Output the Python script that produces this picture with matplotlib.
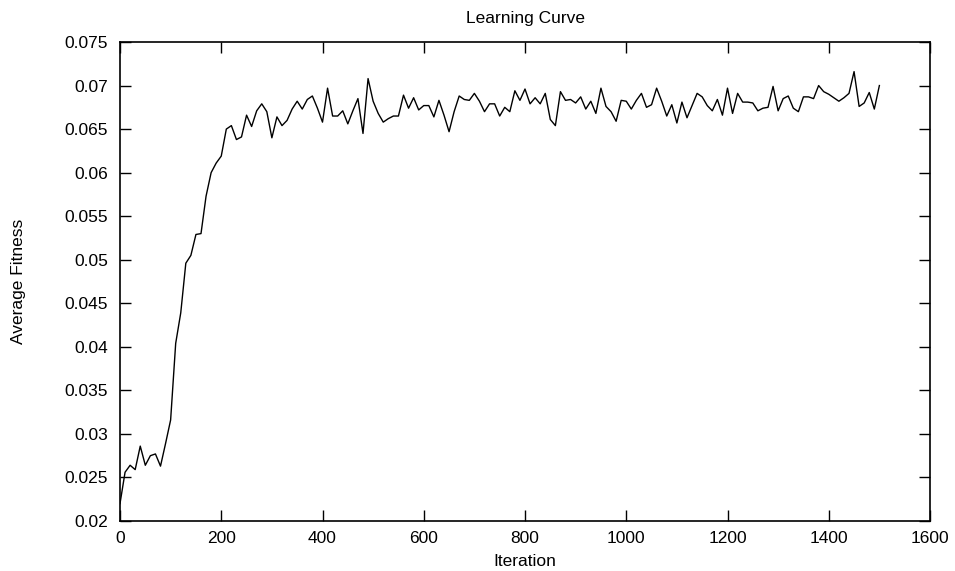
import matplotlib
matplotlib.use("Agg")
import matplotlib.pyplot as plt

plt.rcParams['font.family'] = ['Liberation Sans', 'DejaVu Sans']

# average fitness, sampled every 10 iterations (0..1500)
fitness = [
    0.0220, 0.0256, 0.0264, 0.0259, 0.0286, 0.0264, 0.0275, 0.0277, 0.0263, 0.0289,
    0.0316, 0.0404, 0.0439, 0.0496, 0.0505, 0.0529, 0.0530, 0.0573, 0.0600, 0.0611,
    0.0619, 0.0650, 0.0654, 0.0638, 0.0641, 0.0666, 0.0653, 0.0671, 0.0679, 0.0670,
    0.0640, 0.0664, 0.0654, 0.0660, 0.0673, 0.0682, 0.0673, 0.0684, 0.0688, 0.0674,
    0.0658, 0.0697, 0.0665, 0.0665, 0.0671, 0.0656, 0.0671, 0.0685, 0.0645, 0.0708,
    0.0682, 0.0668, 0.0658, 0.0662, 0.0665, 0.0665, 0.0689, 0.0674, 0.0686, 0.0672,
    0.0677, 0.0677, 0.0664, 0.0683, 0.0666, 0.0647, 0.0670, 0.0688, 0.0684, 0.0683,
    0.0691, 0.0682, 0.0670, 0.0679, 0.0679, 0.0665, 0.0675, 0.0670, 0.0694, 0.0683,
    0.0696, 0.0679, 0.0686, 0.0679, 0.0691, 0.0661, 0.0654, 0.0693, 0.0683, 0.0684,
    0.0680, 0.0687, 0.0673, 0.0682, 0.0668, 0.0697, 0.0676, 0.0670, 0.0659, 0.0683,
    0.0682, 0.0673, 0.0683, 0.0691, 0.0675, 0.0678, 0.0697, 0.0682, 0.0665, 0.0678,
    0.0657, 0.0681, 0.0663, 0.0677, 0.0691, 0.0687, 0.0677, 0.0671, 0.0684, 0.0666,
    0.0697, 0.0668, 0.0691, 0.0681, 0.0681, 0.0680, 0.0671, 0.0674, 0.0675, 0.0699,
    0.0671, 0.0685, 0.0688, 0.0674, 0.0670, 0.0687, 0.0687, 0.0685, 0.0700, 0.0693,
    0.0690, 0.0686, 0.0682, 0.0686, 0.0691, 0.0716, 0.0676, 0.0680, 0.0692, 0.0673,
    0.0700,
]
iterations = [10 * i for i in range(len(fitness))]

x_ticks = [0, 200, 400, 600, 800, 1000, 1200, 1400, 1600]
y_ticks = [0.02, 0.025, 0.03, 0.035, 0.04, 0.045, 0.05, 0.055, 0.06, 0.065, 0.07, 0.075]
y_labels = ['0.02', '0.025', '0.03', '0.035', '0.04', '0.045', '0.05', '0.055',
            '0.06', '0.065', '0.07', '0.075']

fs = 12.5

fig = plt.figure(figsize=(9.55, 5.71), dpi=100)
ax = fig.add_axes([120 / 955, 1 - 521 / 571, 810 / 955, 479 / 571])

ax.plot(iterations, fitness, color='black', linewidth=1.0)

ax.set_xlim(0, 1600)
ax.set_ylim(0.02, 0.075)
ax.set_xticks(x_ticks)
ax.set_yticks(y_ticks)
ax.set_yticklabels(y_labels)
ax.tick_params(direction='in', length=8, width=1, top=True, right=True,
               labelsize=fs, colors='black')
ax.tick_params(axis='y', pad=8.5)
ax.tick_params(axis='x', pad=7)
for s in ax.spines.values():
    s.set_linewidth(1.2)

ax.set_title('Learning Curve', fontsize=fs, y=1.05, va='center', pad=0)
ax.set_xlabel('Iteration', fontsize=fs, va='center')
ax.xaxis.set_label_coords(0.5, -40 / 479)
ax.set_ylabel('Average Fitness', fontsize=fs, va='center')
ax.yaxis.set_label_coords(-101 / 810, 0.5)

fig.savefig('out.png', dpi=100)
